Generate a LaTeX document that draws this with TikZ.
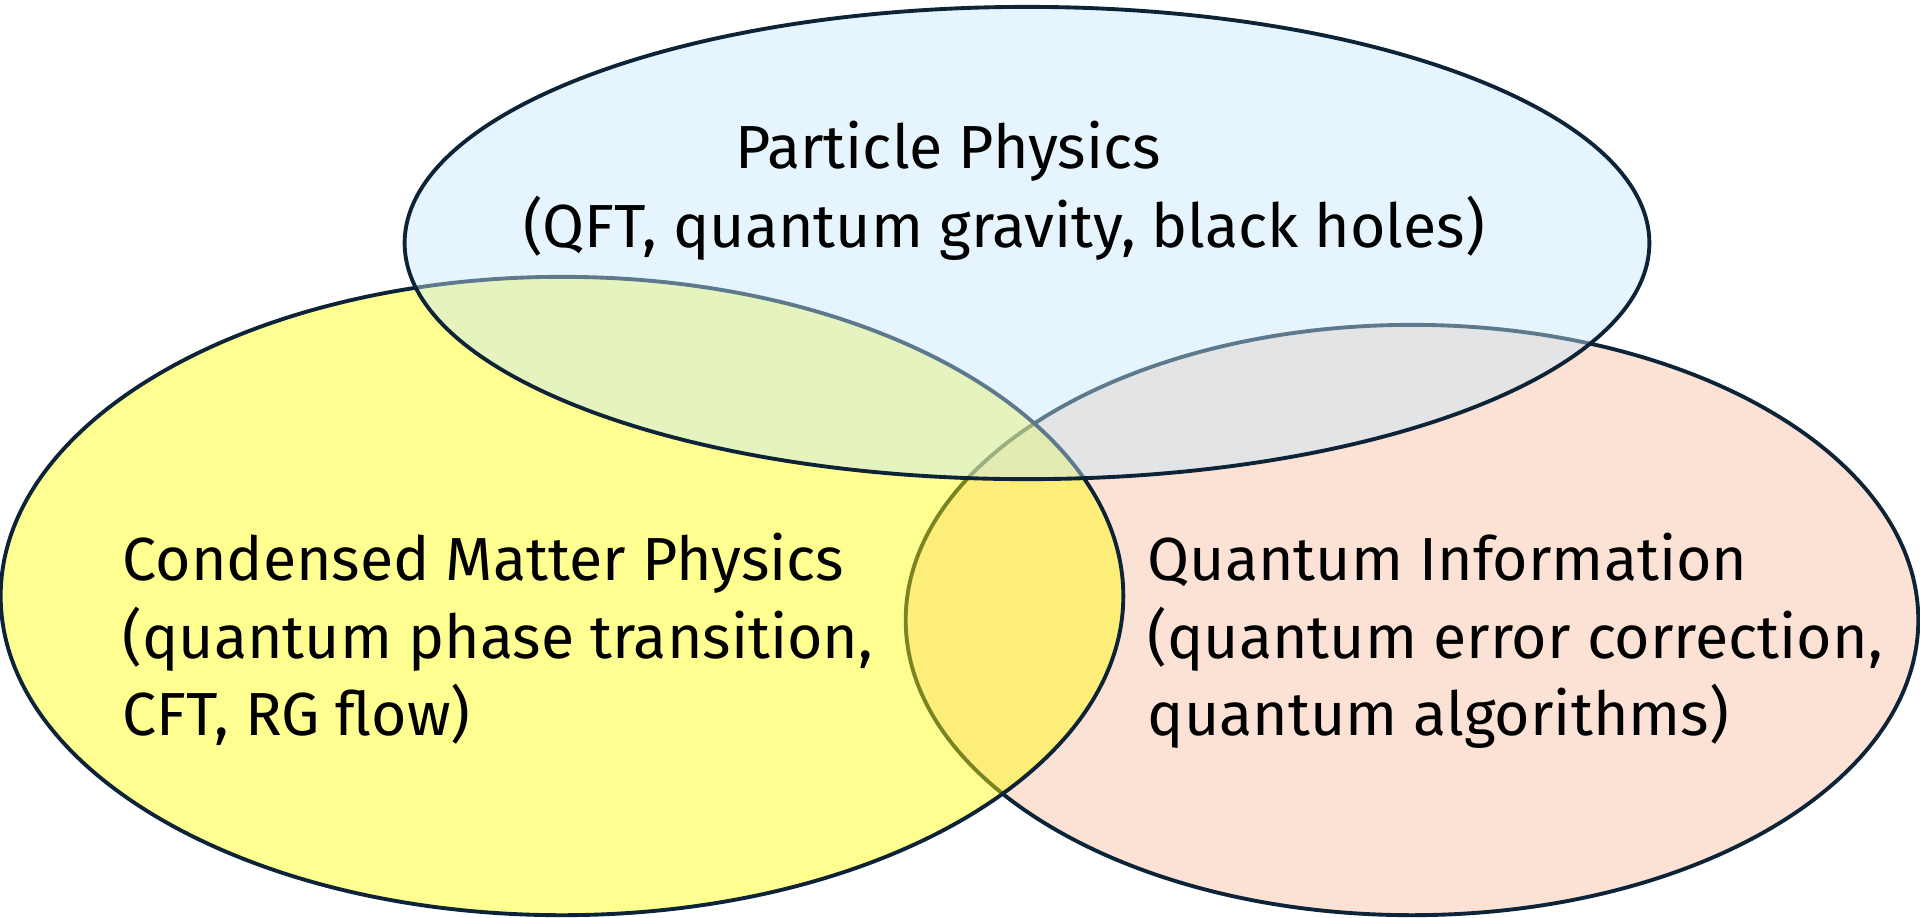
\documentclass[tikz,border=0pt]{standalone}
\usepackage{fontspec}
\setmainfont{Fira Sans}
\usetikzlibrary{shapes.geometric,positioning}
\definecolor{rimcol}{RGB}{12,35,56}
\definecolor{cmpfill}{RGB}{255,253,10}
\definecolor{qifill}{RGB}{251,226,213}
\definecolor{ppfill}{RGB}{198,232,250}

\begin{document}
\begin{tikzpicture}[x=0.01cm,y=-0.01cm,
  field/.style={ellipse,draw=rimcol,line width=1.1pt,inner sep=0pt},
  lbl/.style={font=\fontsize{17.3}{21.9}\selectfont,inner sep=0pt,align=left}]
\useasboundingbox (0,0) rectangle (1920,917);
\node[field,fill=qifill,minimum width=10.12cm,minimum height=5.9cm] (qi) at (1412,620) {};
\node[field,fill=cmpfill,fill opacity=0.45,minimum width=11.22cm,minimum height=6.38cm] (cmp) at (562,596) {};
\node[field,fill=ppfill,fill opacity=0.44,minimum width=12.44cm,minimum height=4.72cm] (pp) at (1027,243) {};
\node[lbl,anchor=base] (pptitle) at (948,168) {Particle Physics};
\node[lbl,anchor=base] (ppsub) at (1004,247) {(QFT, quantum gravity, black holes)};
\node[lbl,anchor=base west] (cmptext) at (122,735) {Condensed Matter Physics\\(quantum phase transition,\\CFT, RG flow)};
\node[lbl,anchor=base west] (qitext) at (1147,735) {Quantum Information\\(quantum error correction,\\quantum algorithms)};
\end{tikzpicture}
\end{document}
